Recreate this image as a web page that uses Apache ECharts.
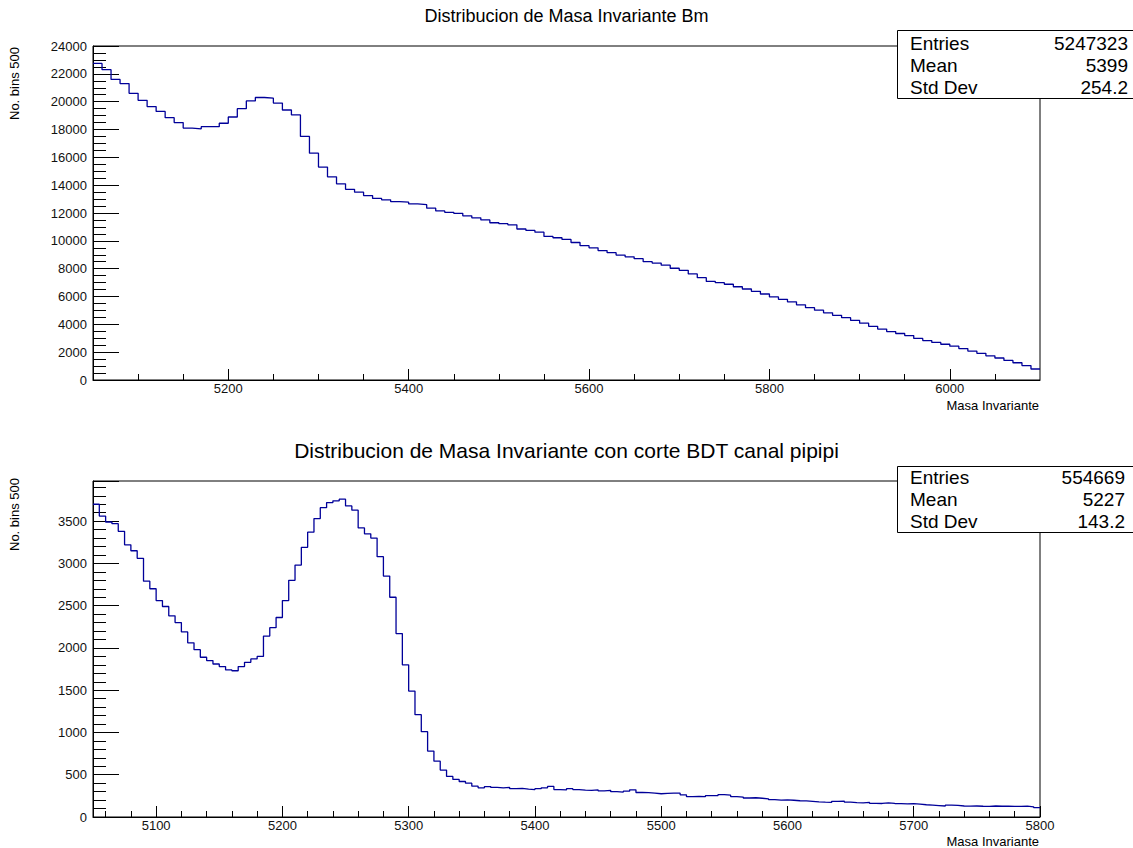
<!DOCTYPE html>
<html><head><meta charset="utf-8">
<script src="https://cdn.jsdelivr.net/npm/echarts@6/dist/echarts.min.js"></script>
<style>html,body{margin:0;padding:0;background:#fff}#c{width:1133px;height:848px}</style>
</head><body><div id="c"></div>
<script>
// ---------- texts ----------
const topTitle = 'Distribucion de Masa Invariante Bm';
const bottomTitle = 'Distribucion de Masa Invariante con corte BDT canal pipipi';
const xTitle = 'Masa Invariante';
const yTitle = 'No. bins 500';
const topStats = [['Entries', '5247323'], ['Mean', '5399'], ['Std Dev', '254.2']];
const bottomStats = [['Entries', '554669'], ['Mean', '5227'], ['Std Dev', '143.2']];

// ---------- top histogram (bin low edge = topBinStart + i*topBinWidth) ----------
const topBinStart = 5050, topBinWidth = 10, topXMax = 6100, topYMax = 24000;
const topValues = [
  22750, 22300, 21600, 21300, 20600, 20100, 19650, 19300, 18850, 18500,
  18100, 18050, 18200, 18200, 18450, 18900, 19500, 20050, 20300, 20250,
  19900, 19400, 19050, 17500, 16300, 15300, 14600, 14100, 13700, 13500,
  13250, 13050, 12950, 12820, 12780, 12650, 12600, 12350, 12150, 12050,
  11980, 11800, 11650, 11500, 11300, 11230, 11150, 10850, 10750, 10620,
  10320, 10220, 10100, 9880, 9650, 9500, 9300, 9150, 8980, 8850,
  8720, 8500, 8400, 8250, 8030, 7880, 7620, 7350, 7080, 6990,
  6880, 6700, 6540, 6370, 6180, 5970, 5800, 5620, 5400, 5200,
  5020, 4830, 4650, 4480, 4280, 4080, 3860, 3660, 3480, 3340,
  3190, 2990, 2830, 2700, 2570, 2430, 2260, 2080, 1920, 1740,
  1580, 1410, 1240, 1040, 790
];
const topXMajor = [5200, 5400, 5600, 5800, 6000];
const topXMinor = [5100, 5150, 5250, 5300, 5350, 5450, 5500, 5550, 5650, 5700, 5750, 5850, 5900, 5950, 6050];
const topYInterval = 2000, topYMinorStep = 500;

// ---------- bottom histogram ----------
const bottomBinStart = 5050, bottomBinWidth = 5, bottomXMax = 5800, bottomYMax = 3975;
const bottomValues = [
  3700, 3560, 3490, 3470, 3380, 3220, 3150, 3060, 2790, 2700,
  2560, 2490, 2380, 2300, 2190, 2060, 1980, 1890, 1850, 1810,
  1780, 1740, 1730, 1780, 1830, 1870, 1900, 2140, 2240, 2360,
  2560, 2800, 2980, 3190, 3370, 3530, 3660, 3720, 3740, 3760,
  3680, 3630, 3420, 3350, 3300, 3080, 2850, 2600, 2170, 1800,
  1490, 1210, 1010, 780, 660, 555, 480, 445, 420, 400,
  365, 345, 360, 350, 345, 350, 335, 338, 330, 325,
  335, 345, 362, 325, 320, 335, 325, 318, 316, 322,
  310, 315, 300, 295, 305, 322, 290, 288, 282, 275,
  280, 283, 282, 262, 242, 245, 240, 252, 254, 265,
  258, 242, 236, 225, 228, 222, 215, 205, 200, 202,
  198, 192, 190, 186, 180, 175, 172, 185, 188, 176,
  170, 168, 172, 162, 160, 168, 160, 158, 155, 158,
  152, 145, 140, 135, 130, 140, 138, 130, 128, 130,
  127, 126, 130, 127, 128, 125, 126, 128, 120, 110
];
const bottomXMajor = [5100, 5200, 5300, 5400, 5500, 5600, 5700, 5800];
const bottomXMinorStep = 20;
const bottomYInterval = 500, bottomYMinorStep = 100;

// ---------- helpers ----------
function range(a, b, s) { const r = []; for (let v = a; v <= b + 1e-9; v += s) r.push(v); return r; }
function toSteps(start, width, values) {
  const d = values.map((v, i) => [start + i * width, v]);
  d.push([start + values.length * width, values[values.length - 1]]);
  return d;
}

const FONT = '"Liberation Sans", Arial, Helvetica, sans-serif';
const BLACK = '#000';
const LINE = '#000099';

const topXMinorTicks = topXMinor;
const bottomXMinorTicks = range(bottomBinStart + 10, bottomXMax, bottomXMinorStep);
const topYMinorTicks = range(0, topYMax, topYMinorStep);
const bottomYMinorTicks = range(0, 3900, bottomYMinorStep);

function xMain(grid, min, max, major) {
  return {
    type: 'value', gridIndex: grid, position: 'bottom', min: min, max: max,
    axisLine: { show: true, onZero: false, lineStyle: { color: BLACK, width: 1 } },
    axisTick: { show: true, inside: true, length: 11, customValues: major, lineStyle: { color: BLACK, width: 1 } },
    axisLabel: { show: true, customValues: major, margin: 2, fontSize: 13, color: '#111', fontFamily: FONT,
      formatter: v => String(v) },
    splitLine: { show: false }
  };
}
function xMinor(grid, min, max, ticks) {
  return {
    type: 'value', gridIndex: grid, position: 'bottom', min: min, max: max,
    axisLine: { show: false },
    axisTick: { show: true, inside: true, length: 6, customValues: ticks, lineStyle: { color: BLACK, width: 1 } },
    axisLabel: { show: false },
    splitLine: { show: false }
  };
}
function yMain(grid, max, interval) {
  return {
    type: 'value', gridIndex: grid, position: 'left', min: 0, max: max, interval: interval,
    axisLine: { show: true, onZero: false, lineStyle: { color: BLACK, width: 1 } },
    axisTick: { show: true, inside: true, length: 26, lineStyle: { color: BLACK, width: 1 } },
    axisLabel: { show: true, margin: 6, fontSize: 13, color: '#111', fontFamily: FONT,
      showMaxLabel: true, formatter: v => (v % interval === 0 ? String(v) : '') },
    splitLine: { show: false }
  };
}
function yMinor(grid, max, ticks) {
  return {
    type: 'value', gridIndex: grid, position: 'left', min: 0, max: max,
    axisLine: { show: false },
    axisTick: { show: true, inside: true, length: 13, customValues: ticks, lineStyle: { color: BLACK, width: 1 } },
    axisLabel: { show: false },
    splitLine: { show: false }
  };
}

function statBox(y, h, rows, rowY, rightX) {
  const children = [{
    type: 'rect', shape: { x: 897.5, y: y + 0.5, width: 240, height: h },
    style: { fill: '#fff', stroke: BLACK, lineWidth: 1 }
  }];
  rows.forEach((r, i) => {
    children.push({ type: 'text', x: 910, y: rowY[i],
      style: { text: r[0], fill: BLACK, font: '19px ' + FONT, textAlign: 'left', textVerticalAlign: 'middle' } });
    children.push({ type: 'text', x: rightX, y: rowY[i],
      style: { text: r[1], fill: BLACK, font: '19px ' + FONT, textAlign: 'right', textVerticalAlign: 'middle' } });
  });
  return { type: 'group', z: 100, children: children };
}

const chart = echarts.init(document.getElementById('c'), null, { renderer: 'svg' });
chart.setOption({
  animation: false,
  backgroundColor: '#fff',
  title: [
    { text: topTitle, left: 'center', top: 7, padding: 0,
      textStyle: { fontSize: 18, fontWeight: 'normal', color: BLACK, fontFamily: FONT } },
    { text: bottomTitle, left: 'center', top: 440, padding: 0,
      textStyle: { fontSize: 21, fontWeight: 'normal', color: BLACK, fontFamily: FONT } }
  ],
  grid: [
    { left: 93, right: 93, top: 46, bottom: 468, show: true, borderColor: BLACK, borderWidth: 1, backgroundColor: 'transparent' },
    { left: 93, right: 93, top: 481, bottom: 31, show: true, borderColor: BLACK, borderWidth: 1, backgroundColor: 'transparent' }
  ],
  xAxis: [
    xMain(0, topBinStart, topXMax, topXMajor),
    xMinor(0, topBinStart, topXMax, topXMinorTicks),
    xMain(1, bottomBinStart, bottomXMax, bottomXMajor),
    xMinor(1, bottomBinStart, bottomXMax, bottomXMinorTicks)
  ],
  yAxis: [
    yMain(0, topYMax, topYInterval),
    yMinor(0, topYMax, topYMinorTicks),
    yMain(1, bottomYMax, bottomYInterval),
    yMinor(1, bottomYMax, bottomYMinorTicks)
  ],
  series: [
    { name: topTitle, type: 'line', xAxisIndex: 0, yAxisIndex: 0, step: 'end', symbol: 'none', showSymbol: false,
      clip: true, lineStyle: { color: LINE, width: 1.3 }, data: toSteps(topBinStart, topBinWidth, topValues) },
    { name: bottomTitle, type: 'line', xAxisIndex: 2, yAxisIndex: 2, step: 'end', symbol: 'none', showSymbol: false,
      clip: true, lineStyle: { color: LINE, width: 1.3 }, data: toSteps(bottomBinStart, bottomBinWidth, bottomValues) }
  ],
  graphic: [
    { type: 'text', x: 1039, y: 405, style: { text: xTitle, fill: BLACK, font: '13px ' + FONT, textAlign: 'right', textVerticalAlign: 'middle' } },
    { type: 'text', x: 1039, y: 841, style: { text: xTitle, fill: BLACK, font: '13px ' + FONT, textAlign: 'right', textVerticalAlign: 'middle' } },
    { type: 'text', x: 14, y: 47, rotation: Math.PI / 2, style: { text: yTitle, fill: BLACK, font: '13px ' + FONT, textAlign: 'right', textVerticalAlign: 'middle' } },
    { type: 'text', x: 14, y: 478, rotation: Math.PI / 2, style: { text: yTitle, fill: BLACK, font: '13px ' + FONT, textAlign: 'right', textVerticalAlign: 'middle' } },
    statBox(30, 68, topStats, [43, 65, 87], 1128),
    statBox(466, 66, bottomStats, [477, 499, 521], 1125)
  ]
});
</script>
</body></html>
